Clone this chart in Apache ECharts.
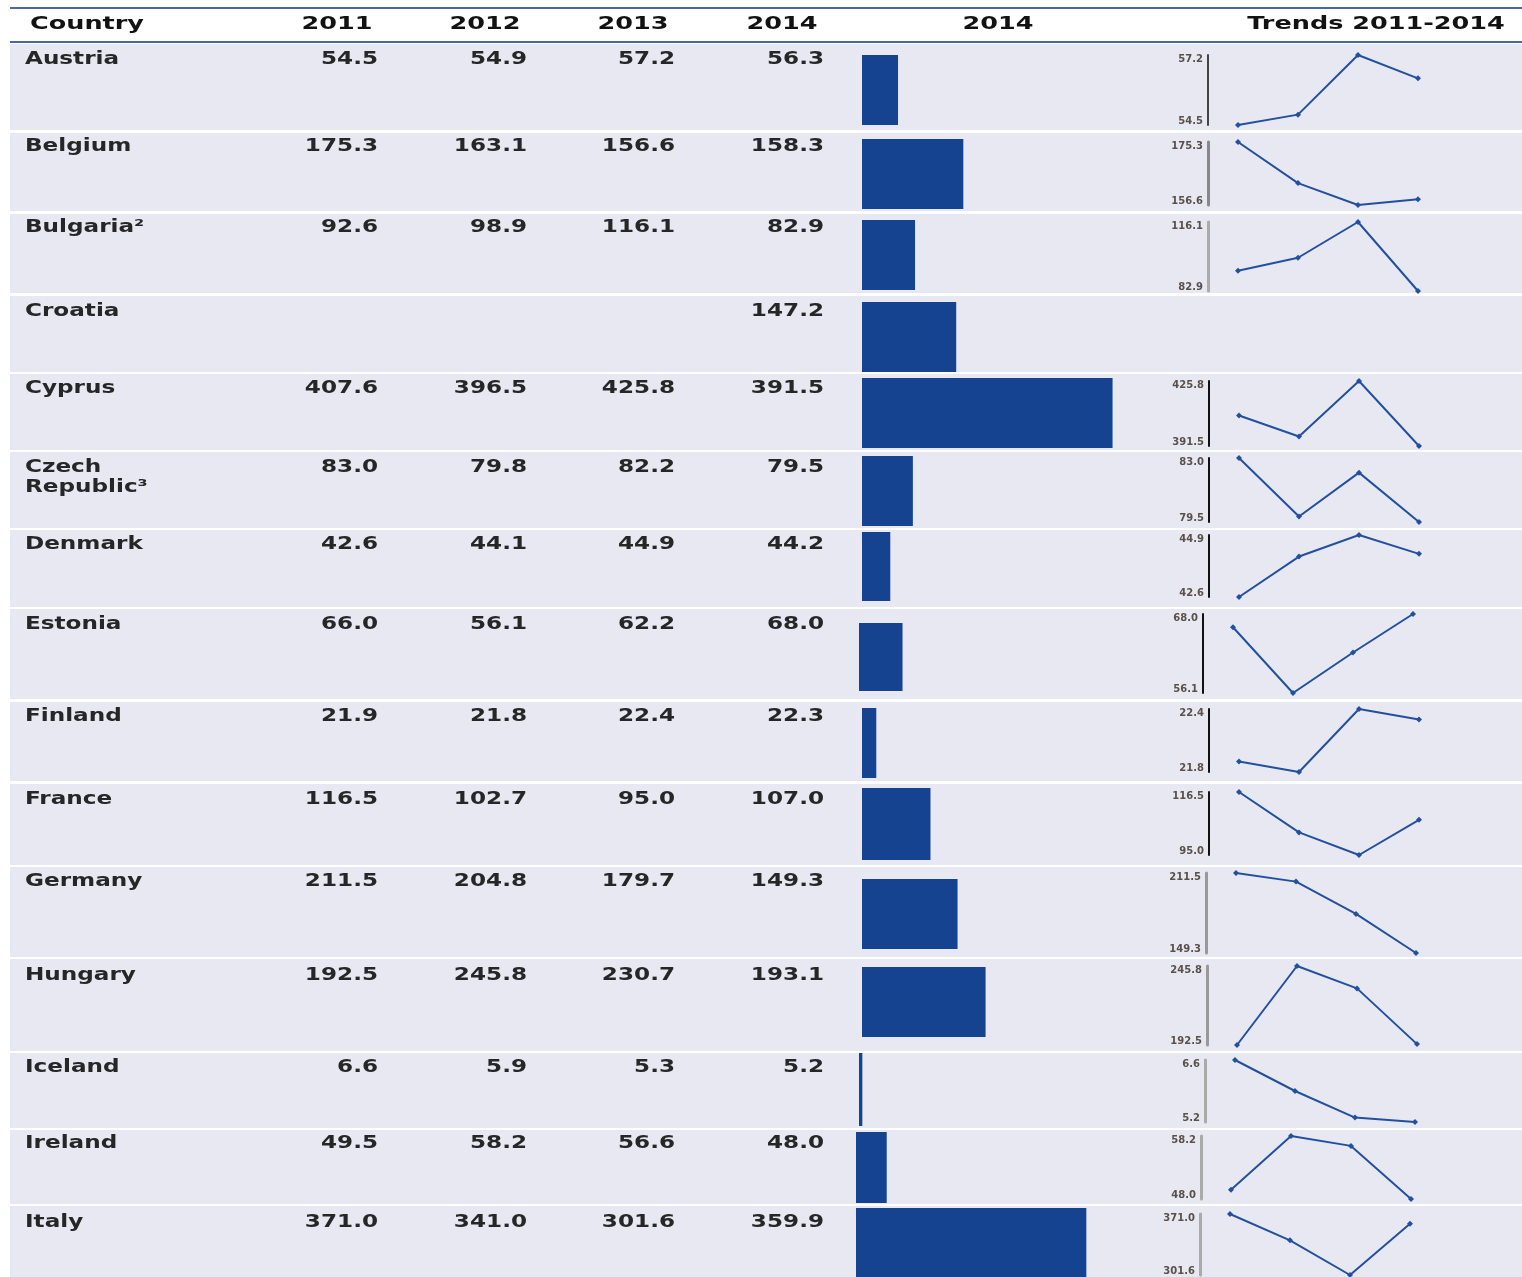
<!DOCTYPE html>
<html>
<head>
<meta charset="utf-8">
<title>Trends 2011-2014</title>
<script src="https://cdn.jsdelivr.net/npm/echarts@6.0.0/dist/echarts.min.js"></script>
<style>
  html, body { margin: 0; padding: 0; background: #fff; }
  #main { width: 1522px; height: 1277px; }
</style>
</head>
<body>
<div id="main"></div>
<script>
// data
const countries = ['Austria', 'Belgium', 'Bulgaria²', 'Croatia', 'Cyprus', 'Czech\nRepublic³', 'Denmark',
  'Estonia', 'Finland', 'France', 'Germany', 'Hungary', 'Iceland', 'Ireland', 'Italy']
const years = ['2011', '2012', '2013', '2014']
const v2011 = [54.5, 175.3, 92.6, null, 407.6, 83.0, 42.6, 66.0, 21.9, 116.5, 211.5, 192.5, 6.6, 49.5, 371.0]
const v2012 = [54.9, 163.1, 98.9, null, 396.5, 79.8, 44.1, 56.1, 21.8, 102.7, 204.8, 245.8, 5.9, 58.2, 341.0]
const v2013 = [57.2, 156.6, 116.1, null, 425.8, 82.2, 44.9, 62.2, 22.4, 95.0, 179.7, 230.7, 5.3, 56.6, 301.6]
const v2014 = [56.3, 158.3, 82.9, 147.2, 391.5, 79.5, 44.2, 68.0, 22.3, 107.0, 149.3, 193.1, 5.2, 48.0, 359.9]

// layout (pixels)
const rowTop = [44, 133, 214, 296, 374, 452, 530, 609, 702, 784, 867, 959, 1053, 1130, 1206]
const rowBottom = [130, 211, 293, 372, 450, 528, 607, 699, 781, 865, 957, 1051, 1128, 1204, 1280]
const textY = [60, 147, 228, 312, 389, 468, 545, 625, 717, 800, 882, 976, 1068, 1144, 1223]
const colRight = [378, 527, 675, 824]
const barLeft = [862, 862, 862, 862, 862, 862, 862, 859, 862, 862, 862, 862, 859, 856, 856]
const barTop = [55, 139, 220, 302, 378, 456, 532, 623, 708, 788, 879, 967, 1053, 1132, 1208]
const barBottom = [125, 209, 290, 372, 448, 526, 601, 691, 778, 860, 949, 1037, 1126, 1203, 1290]
const sparkLeft = [1208, 1208, 1208, 0, 1209, 1209, 1209, 1203, 1209, 1209, 1206, 1207, 1205, 1201, 1200]
const sparkTop = [55, 142, 222, 0, 381, 458, 535, 614, 709, 792, 873, 966, 1060, 1136, 1214]
const sparkBottom = [125, 205, 291, 0, 446, 522, 597, 693, 772, 855, 953, 1045, 1122, 1199, 1275]
const sparkAxisColor = ['#444', '#888', '#aaa', '', '#111', '#111', '#111', '#111', '#111', '#111',
  '#999', '#999', '#aaa', '#aaa', '#aaa']

const blue = '#15438f'
const font = '"DejaVu Sans", Verdana, sans-serif'

function txt (text, x, y, align, size, color, sx) {
  return {
    type: 'text',
    x,
    y,
    scaleX: sx || 1.36,
    z: 5,
    style: {
      text,
      align,
      verticalAlign: 'middle',
      font: `bold ${size || 17}px ${font}`,
      fill: color || '#262626'
    }
  }
}

const grid = []
const xAxis = []
const yAxis = []
const series = []
const graphic = []

// header
graphic.push({ type: 'line', shape: { x1: 10, y1: 8, x2: 1522, y2: 8 }, style: { stroke: '#4a66a4', lineWidth: 2 } })
graphic.push({ type: 'line', shape: { x1: 10, y1: 42, x2: 1522, y2: 42 }, style: { stroke: '#4a66a4', lineWidth: 2 } })
graphic.push(txt('Country', 30, 25, 'left', 17, '#121212', 1.5))
const headCenter = [337, 485, 633, 782]
years.forEach((y, c) => {
  graphic.push(txt(y, headCenter[c], 25, 'center', 17, '#121212', 1.5))
})
graphic.push(txt('2014', 998, 25, 'center', 17, '#121212', 1.5))
graphic.push(txt('Trends 2011-2014', 1376, 25, 'center', 17, '#121212', 1.5))

const cols = [v2011, v2012, v2013, v2014]

countries.forEach((name, i) => {
  graphic.push({
    type: 'rect',
    z: -10,
    shape: { x: 10, y: rowTop[i], width: 1512, height: rowBottom[i] - rowTop[i] },
    style: { fill: '#e8e8f3' }
  })
  name.split('\n').forEach((line, k) => {
    graphic.push(txt(line, 25, textY[i] + k * 20, 'left'))
  })
  cols.forEach((arr, c) => {
    if (arr[i] != null) graphic.push(txt(arr[i].toFixed(1), colRight[c], textY[i], 'right'))
  })

  // 2014 bar
  let g = grid.length
  grid.push({ left: barLeft[i], top: barTop[i], width: 256, height: barBottom[i] - barTop[i] })
  xAxis.push({ gridIndex: g, type: 'value', min: 0, max: 400, show: false })
  yAxis.push({ gridIndex: g, type: 'category', data: ['2014'], show: false })
  series.push({
    type: 'bar',
    xAxisIndex: g,
    yAxisIndex: g,
    data: [v2014[i]],
    barWidth: '100%',
    itemStyle: { color: blue },
    silent: true
  })

  // sparkline
  const vals = cols.map(arr => arr[i])
  if (vals.some(v => v == null)) return
  const lo = Math.min(...vals)
  const hi = Math.max(...vals)
  g = grid.length
  grid.push({ left: sparkLeft[i], top: sparkTop[i], width: 240, height: sparkBottom[i] - sparkTop[i] })
  xAxis.push({ gridIndex: g, type: 'category', data: years, boundaryGap: true, show: false })
  const thick = sparkAxisColor[i] === '#111' || sparkAxisColor[i] === '#444' ? 2 : 3
  yAxis.push({
    gridIndex: g,
    type: 'value',
    min: lo,
    max: hi,
    interval: hi - lo,
    axisLine: { show: true, lineStyle: { color: sparkAxisColor[i], width: thick } },
    axisTick: { show: false },
    splitLine: { show: false },
    axisLabel: {
      customValues: [lo, hi],
      margin: 5,
      formatter: v => (Math.abs(v - hi) < 1e-6 ? '{t|' : '{b|') + v.toFixed(1) + '}',
      rich: {
        t: { fontSize: 10, fontWeight: 'bold', fontFamily: font, color: '#5a5048', padding: [8, 0, 0, 0] },
        b: { fontSize: 10, fontWeight: 'bold', fontFamily: font, color: '#5a5048', padding: [0, 0, 8, 0] }
      }
    }
  })
  series.push({
    type: 'line',
    xAxisIndex: g,
    yAxisIndex: g,
    data: vals,
    symbol: 'diamond',
    symbolSize: 6,
    lineStyle: { color: '#23509e', width: 2 },
    itemStyle: { color: '#23509e' },
    silent: true,
    animation: false
  })
})

const chart = echarts.init(document.getElementById('main'))
chart.setOption({
  animation: false,
  backgroundColor: '#fff',
  grid,
  xAxis,
  yAxis,
  series,
  graphic
})
</script>
</body>
</html>
